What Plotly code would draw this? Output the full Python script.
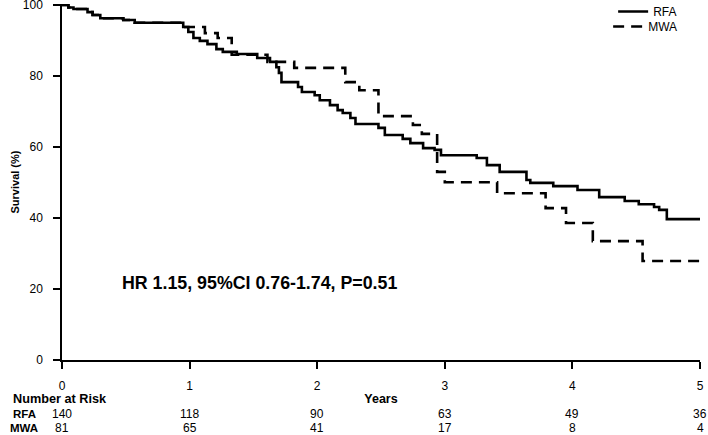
import plotly.graph_objects as go

# Kaplan-Meier step data (years, survival %)
rfa_t = [0, 0.05, 0.09, 0.20, 0.24, 0.30, 0.48, 0.57, 0.95, 0.99, 1.03, 1.08, 1.14, 1.21,
         1.26, 1.37, 1.53, 1.63, 1.68, 1.70, 1.72, 1.85, 1.88, 1.98, 2.02, 2.10, 2.16,
         2.20, 2.26, 2.30, 2.48, 2.53, 2.67, 2.73, 2.83, 2.92, 2.97, 3.25, 3.33, 3.43,
         3.64, 3.67, 3.85, 4.04, 4.21, 4.41, 4.52, 4.64, 4.68, 4.74, 5.0]
rfa_s = [100, 99.3, 98.9, 98.0, 97.2, 96.3, 95.8, 95.0, 93.8, 92.4, 90.7, 89.9, 89.0, 87.6,
         86.8, 86.2, 85.1, 84.0, 82.5, 80.9, 78.3, 76.9, 75.5, 74.6, 73.2, 71.8, 70.4,
         69.6, 68.2, 66.5, 65.4, 63.4, 62.3, 61.1, 59.7, 59.2, 57.7, 56.9, 54.9, 53.0,
         50.7, 49.9, 49.0, 47.9, 45.9, 44.8, 43.9, 43.1, 42.3, 39.7, 39.7]

mwa_t = [0, 0.05, 0.09, 0.20, 0.24, 0.30, 0.48, 0.57, 0.95, 1.12, 1.22, 1.33, 1.61, 1.82,
         2.22, 2.33, 2.48, 2.75, 2.82, 2.94, 3.00, 3.41, 3.79, 3.95, 4.16, 4.55, 5.0]
mwa_s = [100, 99.3, 98.9, 98.0, 97.2, 96.3, 95.8, 95.0, 93.8, 92.1, 90.7, 86.0, 84.0, 82.3,
         78.3, 76.0, 68.7, 66.2, 63.7, 53.0, 50.1, 47.0, 42.8, 38.6, 33.5, 27.9, 27.9]

risk_years = [0, 1, 2, 3, 4, 5]
risk_rfa = [140, 118, 90, 63, 49, 36]
risk_mwa = [81, 65, 41, 17, 8, 4]

y_ticks = [0, 20, 40, 60, 80, 100]
hr_text = "HR 1.15, 95%CI 0.76-1.74, P=0.51"

FONT = "Liberation Sans, Arial, sans-serif"

fig = go.Figure()
fig.add_trace(go.Scatter(x=mwa_t, y=mwa_s, mode="lines", name="MWA", line_shape="hv",
                         legend="legend2",
                         line=dict(color="black", width=2.6, dash="11px,7px")))
fig.add_trace(go.Scatter(x=rfa_t, y=rfa_s, mode="lines", name="RFA", line_shape="hv",
                         legend="legend",
                         line=dict(color="black", width=2.6)))

annotations = []
annotations.append(dict(x=0.455, y=21.7, xref="x", yref="y", text="<b>" + hr_text + "</b>",
                        showarrow=False, xanchor="left", yanchor="middle",
                        font=dict(family=FONT, size=17.8, color="black")))
annotations.append(dict(x=-0.08, y=0, xref="paper", yref="paper", yshift=-39,
                        text="<b>Number at Risk</b>", showarrow=False, xanchor="left",
                        yanchor="middle", font=dict(family=FONT, size=12.7, color="black")))
annotations.append(dict(x=-0.058, y=0, xref="paper", yref="paper", yshift=-54,
                        text="<b>RFA</b>", showarrow=False, xanchor="center",
                        yanchor="middle", font=dict(family=FONT, size=11.5, color="black")))
annotations.append(dict(x=-0.059, y=0, xref="paper", yref="paper", yshift=-68,
                        text="<b>MWA</b>", showarrow=False, xanchor="center",
                        yanchor="middle", font=dict(family=FONT, size=11.5, color="black")))
for yr, r, m in zip(risk_years, risk_rfa, risk_mwa):
    annotations.append(dict(x=yr, y=0, xref="x", yref="paper", yshift=-54, text=str(r),
                            showarrow=False, xanchor="center", yanchor="middle",
                            font=dict(family=FONT, size=12, color="black")))
    annotations.append(dict(x=yr, y=0, xref="x", yref="paper", yshift=-68, text=str(m),
                            showarrow=False, xanchor="center", yanchor="middle",
                            font=dict(family=FONT, size=12, color="black")))

leg_common = dict(x=0.972, xanchor="right", yanchor="top", bgcolor="rgba(0,0,0,0)",
                  itemwidth=30, font=dict(family=FONT, size=12, color="black"))

fig.update_layout(
    width=708, height=435,
    margin=dict(l=62, r=8, t=4, b=75, autoexpand=False),
    paper_bgcolor="white", plot_bgcolor="white",
    font=dict(family=FONT, size=12, color="black"),
    showlegend=True,
    legend=dict(y=1.0197, **leg_common),
    legend2=dict(y=0.9775, **leg_common),
    annotations=annotations,
    xaxis=dict(range=[0, 5], tickvals=risk_years, showline=True, linecolor="black",
               linewidth=1.5, ticks="outside", ticklen=7, tickwidth=1.5, tickcolor="black",
               showgrid=False, zeroline=False, ticklabelstandoff=7,
               ticklabeloverflow="allow",
               title=dict(text="<b>Years</b>", standoff=2,
                          font=dict(family=FONT, size=12.5, color="black")),
               automargin=False),
    yaxis=dict(range=[0, 100.3], tickvals=y_ticks, showline=True, linecolor="black",
               linewidth=1.5, ticks="outside", ticklen=7, tickwidth=1.5, tickcolor="black",
               showgrid=False, zeroline=False, ticklabelstandoff=8,
               ticklabeloverflow="allow",
               title=dict(text="<b>Survival (%)</b>", standoff=1,
                          font=dict(family=FONT, size=11, color="black")),
               automargin=False),
)

fig.write_html("out.html", config={"displayModeBar": False},
               post_script="document.body.style.margin='0px';document.body.style.padding='0px';")
